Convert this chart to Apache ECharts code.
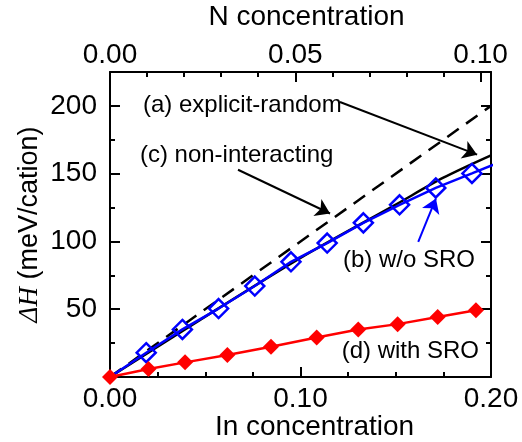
<!DOCTYPE html>
<html>
<head>
<meta charset="utf-8">
<script src="https://cdn.jsdelivr.net/npm/echarts@6/dist/echarts.min.js"></script>
<style>
html, body { margin: 0; padding: 0; background: #fff; }
#chart { width: 522px; height: 442px; }
</style>
</head>
<body>
<div id="chart"></div>
<script>
// data (In concentration -> dH in meV/cation)
var woSroIn = [0, 0.019, 0.038, 0.057, 0.076, 0.095, 0.114, 0.133, 0.152, 0.171, 0.190, 0.209];
var woSroH  = [0, 17.9, 35.1, 50.5, 67.1, 85.0, 98.8, 113.7, 127.0, 139.5, 150.2, 161.0];

var withSroIn = [0, 0.0202, 0.0394, 0.0616, 0.0845, 0.1085, 0.1303, 0.151, 0.172, 0.1921];
var withSroH  = [0, 5.9, 10.8, 16.2, 22.3, 29.2, 35.0, 39.0, 44.3, 49.3];

var randomIn = [0, 0.05, 0.10, 0.15, 0.175, 0.20];
var randomH  = [0, 44.5, 87.9, 127.2, 147.0, 163.5];

var nonIntIn = [0, 0.20];
var nonIntH  = [0, 200];

var yTicks = [50, 100, 150, 200];
var inTicks = [0, 0.1, 0.2];
var nTicks = [0, 0.05, 0.10];

function pairs(xs, ys) {
    return xs.map(function (x, i) { return [x, ys[i]]; });
}

var FONT = '"Liberation Sans", Arial, sans-serif';
var black = { color: '#000', width: 2 };

function isTick(list, v) {
    return list.some(function (t) { return Math.abs(t - v) < 1e-6; });
}

var chart = echarts.init(document.getElementById('chart'));

var option = {
    animation: false,
    grid: { left: 110, right: 31, top: 72, bottom: 65, outerBoundsMode: 'none' },
    xAxis: [
        {   // In concentration, bottom
            type: 'value', position: 'bottom', min: 0, max: 0.2, interval: 0.1,
            axisLine: { show: true, onZero: false, lineStyle: black },
            axisTick: { show: true, inside: true, length: 10, lineStyle: black },
            minorTick: { show: true, splitNumber: 4, length: 5, lineStyle: black },
            splitLine: { show: false },
            axisLabel: {
                margin: 8, fontSize: 28, color: '#000', fontFamily: FONT,
                formatter: function (v) { return isTick(inTicks, v) ? v.toFixed(2) : ''; }
            },
            name: 'In concentration', nameLocation: 'middle', nameGap: 36, nameMoveOverlap: false,
            nameTextStyle: { fontSize: 28, color: '#000', fontFamily: FONT, padding: [0, 0, 0, 28] }
        },
        {   // N concentration, top (minor ticks)
            type: 'value', position: 'top', min: 0, max: 0.1028, interval: 0.01,
            axisLine: { show: true, onZero: false, lineStyle: black },
            axisTick: { show: true, inside: true, length: 5, lineStyle: black },
            splitLine: { show: false },
            axisLabel: {
                margin: 3, fontSize: 28, color: '#000', fontFamily: FONT,
                formatter: function (v) { return isTick(nTicks, v) ? v.toFixed(2) : ''; }
            },
            name: 'N concentration', nameLocation: 'middle', nameGap: 41, nameMoveOverlap: false,
            nameTextStyle: { fontSize: 28, color: '#000', fontFamily: FONT, padding: [0, 0, 0, 12] }
        },
        {   // N concentration, top (major ticks)
            type: 'value', position: 'top', min: 0, max: 0.1028, interval: 0.05,
            axisLine: { show: false, onZero: false },
            axisTick: { show: true, inside: true, length: 10, lineStyle: black },
            splitLine: { show: false },
            axisLabel: { show: false }
        }
    ],
    yAxis: [
        {   // left, minor ticks + labels
            type: 'value', position: 'left', min: 0, max: 225, interval: 25,
            axisLine: { show: true, onZero: false, lineStyle: black },
            axisTick: { show: true, inside: true, length: 5, lineStyle: black },
            splitLine: { show: false },
            axisLabel: {
                margin: 13, fontSize: 28, color: '#000', fontFamily: FONT,
                formatter: function (v) { return isTick(yTicks, v) ? String(v) : ''; }
            },
            name: '{i|ΔH} (meV/cation)', nameLocation: 'middle', nameGap: 67, nameMoveOverlap: false,
            nameTextStyle: {
                fontSize: 27, color: '#000', fontFamily: FONT,
                rich: { i: { fontSize: 27, fontFamily: '"Liberation Serif", "Times New Roman", serif', fontStyle: 'italic', color: '#000' } }
            }
        },
        {   // left, major ticks
            type: 'value', position: 'left', min: 0, max: 225, interval: 50,
            axisLine: { show: false, onZero: false },
            axisTick: { show: true, inside: true, length: 10, lineStyle: black },
            splitLine: { show: false },
            axisLabel: { show: false }
        },
        {   // right, minor ticks
            type: 'value', position: 'right', min: 0, max: 225, interval: 25,
            axisLine: { show: true, onZero: false, lineStyle: black },
            axisTick: { show: true, inside: true, length: 5, lineStyle: black },
            splitLine: { show: false },
            axisLabel: { show: false }
        },
        {   // right, major ticks
            type: 'value', position: 'right', min: 0, max: 225, interval: 50,
            axisLine: { show: false, onZero: false },
            axisTick: { show: true, inside: true, length: 10, lineStyle: black },
            splitLine: { show: false },
            axisLabel: { show: false }
        }
    ],
    series: [
        {
            name: 'non-interacting', type: 'line', xAxisIndex: 0, yAxisIndex: 0,
            data: pairs(nonIntIn, nonIntH), symbol: 'none',
            lineStyle: { color: '#000', width: 2.5, type: [14, 9] },
            markLine: {
                silent: true, animation: false,
                symbol: ['none', 'arrow'], symbolSize: 14,
                label: { show: false },
                lineStyle: { color: '#000', width: 2, type: 'solid' },
                data: [
                    [{ coord: [0.1207, 202.9] }, { coord: [0.1927, 164.0] }],
                    [{ coord: [0.0672, 152.9] }, { coord: [0.1155, 120.6] }]
                ]
            }
        },
        {
            name: 'explicit-random', type: 'line', xAxisIndex: 0, yAxisIndex: 0,
            data: pairs(randomIn, randomH), symbol: 'none', smooth: 0.3,
            lineStyle: { color: '#000', width: 2.5 }
        },
        {
            name: 'w/o SRO', type: 'line', xAxisIndex: 0, yAxisIndex: 0,
            data: pairs(woSroIn, woSroH).map(function (p, i) {
                return i === 0 ? { value: p, symbol: 'none' } : p;
            }),
            symbol: 'diamond', symbolSize: 19,
            itemStyle: { color: 'transparent', borderColor: '#0000ff', borderWidth: 2.5 },
            lineStyle: { color: '#0000ff', width: 2.5 },
            markLine: {
                silent: true, animation: false,
                symbol: ['none', 'arrow'], symbolSize: 14,
                label: { show: false },
                lineStyle: { color: '#0000ff', width: 2, type: 'solid' },
                data: [
                    [{ coord: [0.1618, 99.7] }, { coord: [0.1711, 131.7] }]
                ]
            }
        },
        {
            name: 'with SRO', type: 'line', xAxisIndex: 0, yAxisIndex: 0,
            data: pairs(withSroIn, withSroH),
            symbol: 'diamond', symbolSize: 16,
            itemStyle: { color: '#ff0000' },
            lineStyle: { color: '#ff0000', width: 2.5 }
        }
    ]
};

chart.setOption(option);

// text labels placed in data space
var notes = [
    { text: '(a) explicit-random', at: [0.0173, 200.4] },
    { text: '(c) non-interacting', at: [0.0157, 163.6] },
    { text: '(b) w/o SRO', at: [0.1223, 86.2] },
    { text: '(d) with SRO', at: [0.1216, 18.6] }
];

chart.setOption({
    graphic: notes.map(function (n) {
        var p = chart.convertToPixel({ xAxisIndex: 0, yAxisIndex: 0 }, n.at);
        return {
            type: 'text', x: p[0], y: p[1], silent: true,
            style: {
                text: n.text, fontSize: 24, fontFamily: FONT, fill: '#000',
                align: 'left', verticalAlign: 'middle'
            }
        };
    })
});
</script>
</body>
</html>
